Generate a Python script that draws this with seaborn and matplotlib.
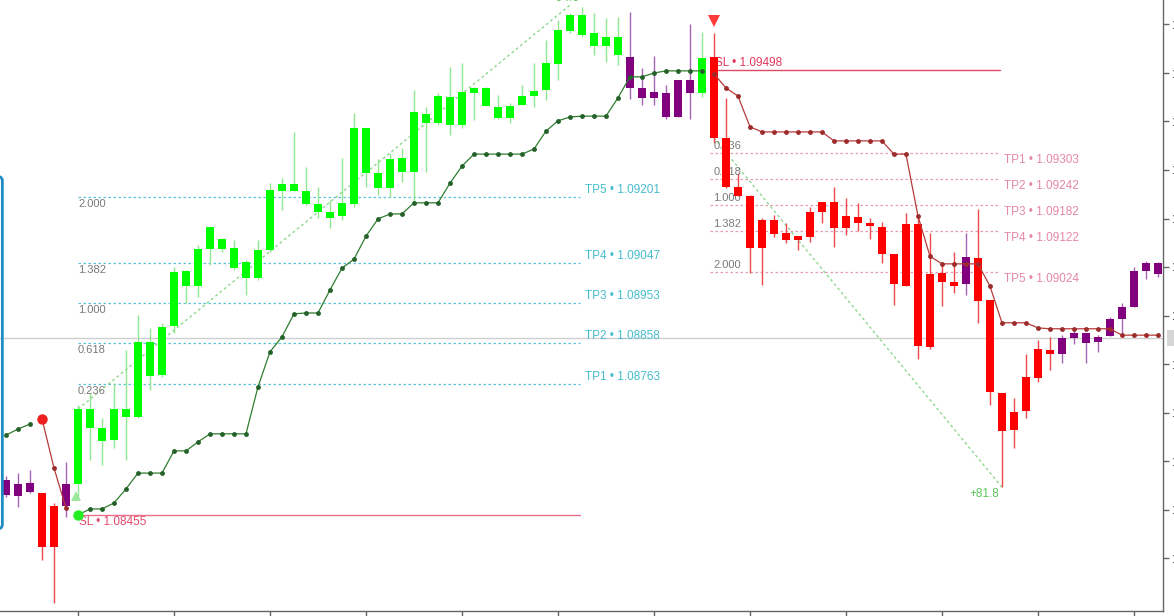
import matplotlib
matplotlib.use("Agg")
import matplotlib.pyplot as plt
from matplotlib.patches import FancyBboxPatch
import numpy as np
import pandas as pd
import seaborn as sns

sns.set_theme(style="white")
plt.rcParams["font.family"] = ["Liberation Sans", "DejaVu Sans"]

# --- candles (EURUSD-like, one bar per slot) ---
opens = [
    1.08538, 1.08500, 1.08531, 1.08507, 1.08381, 1.08477, 1.08529, 1.08704, 1.08660, 1.08632,
    1.08704, 1.08685, 1.08861, 1.08784, 1.08899, 1.09027, 1.08992, 1.09079, 1.09102, 1.09081,
    1.09048, 1.09011, 1.09077, 1.09215, 1.09231, 1.09215, 1.09184, 1.09166, 1.09156, 1.09184,
    1.09362, 1.09257, 1.09222, 1.09292, 1.09259, 1.09395, 1.09374, 1.09435, 1.09369, 1.09444,
    1.09456, 1.09411, 1.09386, 1.09416, 1.09437, 1.09451, 1.09512, 1.09589, 1.09627, 1.09585,
    1.09554, 1.09575, 1.09529, 1.09456, 1.09433, 1.09444, 1.09388, 1.09475, 1.09444, 1.09529,
    1.09339, 1.09224, 1.09203, 1.09081, 1.09147, 1.09116, 1.09100, 1.09107, 1.09166, 1.09189,
    1.09128, 1.09154, 1.09140, 1.09130, 1.09067, 1.08992, 1.09137, 1.08849, 1.09023, 1.09002,
    1.08997, 1.09058, 1.08959, 1.08742, 1.08655, 1.08699, 1.08777, 1.08842, 1.08833, 1.08870,
    1.08882, 1.08861, 1.08875, 1.08915, 1.08943, 1.09027, 1.09046,
]
closes = [
    1.08503, 1.08529, 1.08510, 1.08381, 1.08477, 1.08529, 1.08704, 1.08660, 1.08629, 1.08704,
    1.08685, 1.08861, 1.08781, 1.08896, 1.09025, 1.08992, 1.09079, 1.09130, 1.09079, 1.09034,
    1.09011, 1.09077, 1.09217, 1.09231, 1.09215, 1.09184, 1.09166, 1.09151, 1.09187, 1.09362,
    1.09257, 1.09222, 1.09290, 1.09259, 1.09400, 1.09374, 1.09437, 1.09369, 1.09447, 1.09456,
    1.09414, 1.09386, 1.09414, 1.09437, 1.09449, 1.09515, 1.09592, 1.09627, 1.09580, 1.09554,
    1.09575, 1.09533, 1.09456, 1.09433, 1.09447, 1.09388, 1.09475, 1.09444, 1.09526, 1.09339,
    1.09224, 1.09203, 1.09081, 1.09147, 1.09114, 1.09100, 1.09109, 1.09166, 1.09189, 1.09128,
    1.09156, 1.09140, 1.09133, 1.09067, 1.08997, 1.09137, 1.08852, 1.09020, 1.09002, 1.08992,
    1.09060, 1.08957, 1.08744, 1.08653, 1.08697, 1.08779, 1.08845, 1.08833, 1.08870, 1.08882,
    1.08859, 1.08873, 1.08915, 1.08943, 1.09027, 1.09046, 1.09020,
]
highs = [
    1.08547, 1.08554, 1.08561, 1.08507, 1.08484, 1.08580, 1.08714, 1.08742, 1.08683, 1.08765,
    1.08842, 1.08924, 1.08894, 1.08906, 1.09037, 1.09030, 1.09088, 1.09130, 1.09105, 1.09100,
    1.09053, 1.09100, 1.09233, 1.09245, 1.09353, 1.09271, 1.09224, 1.09194, 1.09292, 1.09397,
    1.09362, 1.09290, 1.09304, 1.09315, 1.09451, 1.09411, 1.09444, 1.09505, 1.09515, 1.09458,
    1.09458, 1.09440, 1.09421, 1.09463, 1.09515, 1.09568, 1.09615, 1.09632, 1.09646, 1.09632,
    1.09620, 1.09622, 1.09634, 1.09503, 1.09531, 1.09463, 1.09475, 1.09606, 1.09587, 1.09585,
    1.09433, 1.09257, 1.09205, 1.09151, 1.09159, 1.09140, 1.09109, 1.09177, 1.09189, 1.09224,
    1.09198, 1.09187, 1.09151, 1.09142, 1.09067, 1.09163, 1.09159, 1.09116, 1.09048, 1.09072,
    1.09116, 1.09173, 1.08959, 1.08742, 1.08730, 1.08833, 1.08866, 1.08873, 1.08877, 1.08889,
    1.08882, 1.08877, 1.08920, 1.08952, 1.09037, 1.09051, 1.09048,
]
lows = [
    1.08498, 1.08475, 1.08507, 1.08351, 1.08250, 1.08451, 1.08498, 1.08585, 1.08573, 1.08613,
    1.08585, 1.08683, 1.08749, 1.08779, 1.08882, 1.08952, 1.08966, 1.09041, 1.09072, 1.09030,
    1.08971, 1.09006, 1.09072, 1.09170, 1.09215, 1.09182, 1.09151, 1.09128, 1.09147, 1.09177,
    1.09224, 1.09205, 1.09201, 1.09236, 1.09189, 1.09259, 1.09369, 1.09346, 1.09362, 1.09381,
    1.09414, 1.09383, 1.09374, 1.09416, 1.09411, 1.09428, 1.09475, 1.09585, 1.09575, 1.09533,
    1.09517, 1.09510, 1.09430, 1.09416, 1.09416, 1.09383, 1.09388, 1.09383, 1.09435, 1.09327,
    1.09222, 1.09203, 1.09023, 1.08995, 1.09107, 1.09093, 1.09077, 1.09095, 1.09140, 1.09084,
    1.09112, 1.09121, 1.09102, 1.09046, 1.08948, 1.08992, 1.08821, 1.08845, 1.08945, 1.08976,
    1.08971, 1.08906, 1.08714, 1.08521, 1.08613, 1.08683, 1.08767, 1.08796, 1.08812, 1.08856,
    1.08812, 1.08838, 1.08875, 1.08877, 1.08943, 1.09009, 1.09013,
]
# G = uptrend bar, R = downtrend bar, P = neutral bar
candle_trend = (
    "PPPRRP"
    "GGGGGGGGGG" "GGGGGGGGGG" "GGGGGGGGGG" "GGGGGGGGGG" "GGGGGG"
    "PPPPPP" "G"
    "RRRRRRRRRR" "RRRRRRRRRR" "R"
    "P" "RRRRRRR" "PPPPPPPPP"
)

# --- trailing stop lines (segment start index, values) ---
green_stop_a_start = 0
green_stop_a = [1.08643, 1.08657, 1.08669]
red_stop_a_start = 3
red_stop_a = [1.08681, 1.08566, 1.08472]
green_stop_b_start = 6
green_stop_b = [
    1.08456, 1.08470, 1.08470, 1.08484, 1.08517, 1.08554, 1.08554, 1.08554, 1.08606, 1.08606,
    1.08627, 1.08646, 1.08646, 1.08646, 1.08646, 1.08756, 1.08838, 1.08873, 1.08927, 1.08929,
    1.08929, 1.08983, 1.09034, 1.09055, 1.09109, 1.09149, 1.09161, 1.09161, 1.09187, 1.09187,
    1.09187, 1.09233, 1.09273, 1.09301, 1.09301, 1.09301, 1.09301, 1.09301, 1.09313, 1.09355,
    1.09379, 1.09388, 1.09390, 1.09390, 1.09390, 1.09433, 1.09482, 1.09482, 1.09491, 1.09496,
    1.09496, 1.09496, 1.09496,
]
red_stop_b_start = 59
red_stop_b = [
    1.09489, 1.09456, 1.09437, 1.09365, 1.09353, 1.09353, 1.09353, 1.09353, 1.09353, 1.09353,
    1.09332, 1.09332, 1.09332, 1.09332, 1.09332, 1.09301, 1.09301, 1.09156, 1.09062, 1.09044,
    1.09044, 1.09044, 1.09044, 1.08992, 1.08906, 1.08906, 1.08906, 1.08894, 1.08892, 1.08892,
    1.08892, 1.08892, 1.08892, 1.08892, 1.08877, 1.08877, 1.08877, 1.08877,
]

# --- long trade (left) ---
long_fib = ["0.236", "0.618", "1.000", "1.382", "2.000"]
long_tp_names = ["TP1", "TP2", "TP3", "TP4", "TP5"]
long_tp = [1.08763, 1.08858, 1.08953, 1.09047, 1.09201]
long_sl = 1.08455
long_span = (6, 47.8)
long_entry = (6, 1.08704)
long_peak = (47, 1.09650)
long_result = "+94.6"

# --- short trade (right) ---
short_fib = ["0.236", "0.618", "1.000", "1.382", "2.000"]
short_tp_names = ["TP1", "TP2", "TP3", "TP4", "TP5"]
short_tp = [1.09303, 1.09242, 1.09182, 1.09122, 1.09024]
short_sl = 1.09498
short_span = (58.7, 82.8)
short_entry = (59, 1.09339)
short_trough = (83, 1.08521)
short_result = "+81.8"

last_price = 1.08870
x_ticks = [6, 14, 22, 30, 38, 46, 54, 62, 70, 78, 86, 94]
y_ticks = [1.09605, 1.09491, 1.09378, 1.09264, 1.09150, 1.09037,
           1.08923, 1.08809, 1.08695, 1.08582, 1.08468, 1.08354]

BODY = {"G": "#00ff00", "R": "#ff0000", "P": "#800080"}
WICK = {"G": "#8fe88f", "R": "#f04848", "P": "#a862b8"}

bars = pd.DataFrame({"open": opens, "high": highs, "low": lows, "close": closes,
                     "trend": list(candle_trend)})
bars["x"] = np.arange(len(bars))
bars["bottom"] = bars[["open", "close"]].min(axis=1)
bars["height"] = (bars["open"] - bars["close"]).abs().clip(lower=0.00002)

fig = plt.figure(figsize=(11.74, 6.16), dpi=100)
ax = fig.add_axes([0, 5 / 616, 1163 / 1174, 611 / 616])

# current price line
ax.axhline(last_price, color="#cfcfcf", lw=1, zorder=1)

# fib / TP levels, long trade
x0, x1 = long_span
for fib, name, lvl in zip(long_fib, long_tp_names, long_tp):
    ax.plot([x0, x1], [lvl, lvl], color="#58c4dc", lw=0.9, ls=(0, (2, 2)), zorder=1)
    ax.annotate(fib, (x0, lvl), xytext=(0, -5), textcoords="offset points",
                va="center", ha="left", fontsize=8, color="#7a7a7a")
    ax.annotate(f"{name} • {lvl:.5f}", (x1, lvl), xytext=(4, 5), textcoords="offset points",
                va="center", ha="left", fontsize=8.5, color="#45bccc")
ax.plot([x0, x1], [long_sl, long_sl], color="#e8708a", lw=1, zorder=1)
ax.annotate(f"SL • {long_sl:.5f}", (x0, long_sl), xytext=(1, -5), textcoords="offset points",
            va="center", ha="left", fontsize=8.5, color="#e24a6c")

# fib / TP levels, short trade
x0, x1 = short_span
for fib, name, lvl in zip(short_fib, short_tp_names, short_tp):
    ax.plot([x0, x1], [lvl, lvl], color="#e79ab2", lw=0.9, ls=(0, (2, 2)), zorder=1)
    ax.annotate(fib, (x0, lvl), xytext=(2, 5), textcoords="offset points",
                va="center", ha="left", fontsize=8, color="#7a7a7a")
    ax.annotate(f"{name} • {lvl:.5f}", (x1, lvl), xytext=(3, -5), textcoords="offset points",
                va="center", ha="left", fontsize=8.5, color="#e587a6")
ax.plot([short_entry[0], x1], [short_sl, short_sl], color="#dc4a68", lw=1, zorder=1)
ax.annotate(f"SL • {short_sl:.5f}", (short_entry[0], short_sl), xytext=(1, 5),
            textcoords="offset points", va="center", ha="left", fontsize=8.5, color="#e0365a")

# trade paths
ax.plot([long_entry[0], long_peak[0]], [long_entry[1], long_peak[1]],
        color="#8ed88e", lw=1, ls=(0, (2, 2)), zorder=1)
ax.plot([short_entry[0], short_trough[0]], [short_entry[1], short_trough[1]],
        color="#8ed88e", lw=1, ls=(0, (2, 2)), zorder=1)
ax.annotate(long_result, long_peak, xytext=(-4, 5), textcoords="offset points",
            ha="center", va="center", fontsize=8.5, color="#5cc45c")
ax.annotate(short_result, short_trough, xytext=(-13, -5), textcoords="offset points",
            ha="center", va="center", fontsize=8.5, color="#5cc45c")

# candles
for trend, grp in bars.groupby("trend"):
    ax.vlines(grp["x"], grp["low"], grp["high"], color=WICK[trend], lw=1, zorder=2)
    ax.bar(grp["x"], grp["height"], bottom=grp["bottom"], width=0.68,
           color=BODY[trend], linewidth=0, zorder=3)

# trailing stops
segments = [
    (green_stop_a_start, green_stop_a, "#2f7d2f", "#24622a"),
    (red_stop_a_start, red_stop_a, "#b83a3a", "#9c2c2c"),
    (green_stop_b_start, green_stop_b, "#2f7d2f", "#24622a"),
    (red_stop_b_start, red_stop_b, "#b83a3a", "#9c2c2c"),
]
for start, vals, lc, mc in segments:
    xs = np.arange(start, start + len(vals))
    sns.lineplot(x=xs, y=vals, ax=ax, color=lc, lw=0.9, marker="o", markersize=3.5,
                 markeredgewidth=0, markerfacecolor=mc, zorder=4)

# signal dots and arrows
ax.plot(red_stop_a_start, red_stop_a[0], "o", color="#ee2020", ms=6.5, zorder=5)
ax.plot(green_stop_b_start, green_stop_b[0], "o", color="#22ee22", ms=6.5, zorder=5)
ax.plot(5.85, 1.08500, marker="^", color="#9be89b", ms=7, mew=0, zorder=5)
ax.plot(59, 1.09612, marker="v", color="#ff3a3a", ms=8, mew=0, zorder=5)

# axes styling
ax.set_xlim(-0.5, 96.42)
ax.set_ylim(1.08231, 1.09662)
ax.yaxis.tick_right()
ax.set_yticks(y_ticks)
ax.set_yticklabels([f"{v:.5f}" for v in y_ticks])
ax.set_xticks(x_ticks)
ax.set_xticklabels([])
ax.tick_params(axis="y", right=True, left=False, length=4, width=1, color="#666666",
               labelsize=8.5, labelcolor="#333333", pad=2)
ax.tick_params(axis="x", bottom=True, length=4, width=1, color="#666666")
for side in ("left", "top"):
    ax.spines[side].set_visible(False)
for side in ("bottom", "right"):
    ax.spines[side].set_color("#666666")
    ax.spines[side].set_linewidth(1)
ax.grid(False)

ax.annotate(f"{last_price:.5f}", (1, last_price), xycoords=("axes fraction", "data"),
            xytext=(5, 0), textcoords="offset points", va="center", ha="left",
            fontsize=8, color="#d6d6d6",
            bbox=dict(boxstyle="square,pad=0.25", fc="#d6d6d6", ec="none"))

# partially visible side panel on the left edge
fig.add_artist(FancyBboxPatch((-0.03, 0.14), 0.032, 0.575,
                              boxstyle="round,pad=0,rounding_size=0.008",
                              transform=fig.transFigure, fc="none", ec="#1f8dc4", lw=2))

fig.savefig("out.png", dpi=100)
